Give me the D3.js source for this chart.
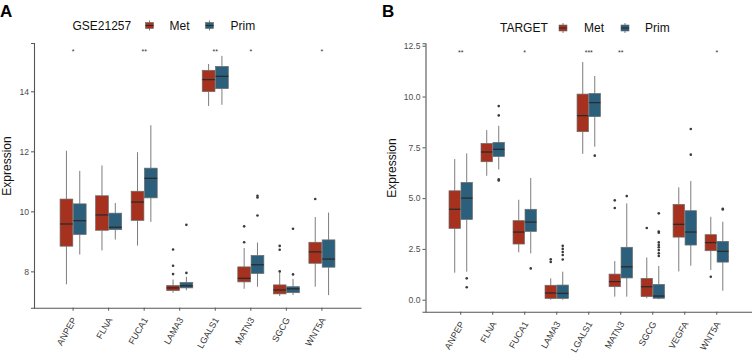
<!DOCTYPE html>
<html>
<head>
<meta charset="utf-8">
<script src="https://cdn.jsdelivr.net/npm/d3@7"></script>
<style>
  body { margin: 0; background: #fff; }
  text { font-family: "Liberation Sans", Arial, sans-serif; }
</style>
</head>
<body>
<div id="chart"></div>
<script>
// ---- data: [lower whisker, q1, median, q3, upper whisker] ----
var genesA = ["ANPEP", "FLNA", "FUCA1", "LAMA3", "LGALS1", "MATN3", "SGCG", "WNT5A"];
var metA = [
    [7.57, 8.84, 9.58, 10.41, 12.02],
    [8.70, 9.37, 9.88, 10.52, 11.53],
    [8.86, 9.70, 10.31, 10.67, 11.97],
    [7.29, 7.36, 7.45, 7.53, 7.73],
    [13.51, 13.99, 14.39, 14.70, 14.91],
    [7.42, 7.65, 7.77, 8.15, 8.78],
    [7.18, 7.25, 7.38, 7.55, 7.96],
    [7.49, 8.27, 8.65, 8.97, 9.81]
];
var primA = [
    [8.56, 9.23, 9.69, 10.25, 11.35],
    [9.06, 9.39, 9.47, 9.94, 10.28],
    [9.65, 10.45, 11.10, 11.44, 12.87],
    [7.37, 7.45, 7.52, 7.63, 7.82],
    [13.55, 14.09, 14.50, 14.83, 15.18],
    [7.49, 7.93, 8.22, 8.53, 8.96],
    [7.21, 7.29, 7.42, 7.49, 7.75],
    [7.21, 8.14, 8.41, 9.05, 9.96]
];
var metOutA = [[], [], [], [8.73, 8.19, 7.91], [], [9.50, 8.97], [8.85, 8.72, 8.00], [10.41]];
var primOutA = [[], [], [], [9.55, 7.95], [], [10.52, 10.46, 9.86], [9.42, 7.90], []];
var sigA = ["*", "", "**", "", "**", "*", "", "*"];
var sigValA = 15.34;
var ticksA = [8, 10, 12, 14];

var genesB = ["ANPEP", "FLNA", "FUCA1", "LAMA3", "LGALS1", "MATN3", "SGCG", "VEGFA", "WNT5A"];
var metB = [
    [1.33, 3.51, 4.45, 5.36, 6.92],
    [6.10, 6.79, 7.27, 7.69, 8.35],
    [2.33, 2.74, 3.33, 3.89, 4.92],
    [0.00, 0.06, 0.33, 0.71, 1.05],
    [7.18, 8.27, 9.06, 10.12, 11.70],
    [0.15, 0.64, 0.89, 1.26, 1.90],
    [0.07, 0.15, 0.64, 1.05, 2.08],
    [1.39, 3.08, 3.71, 4.69, 5.53],
    [1.46, 2.41, 2.81, 3.20, 4.08]
];
var primB = [
    [1.38, 3.95, 5.00, 5.77, 7.20],
    [6.41, 7.05, 7.40, 7.74, 8.56],
    [2.28, 3.36, 3.82, 4.45, 5.99],
    [0.00, 0.06, 0.31, 0.72, 1.38],
    [7.53, 9.01, 9.70, 10.15, 11.01],
    [0.15, 1.07, 1.62, 2.58, 4.74],
    [0.02, 0.07, 0.18, 0.75, 1.66],
    [1.67, 2.69, 3.33, 4.38, 5.84],
    [0.44, 1.85, 2.38, 2.87, 3.84]
];
var metOutB = [[], [], [], [1.99, 1.86], [], [4.89, 4.51], [3.53], [], [1.13]];
var primOutB = [[1.05, 0.61], [9.53, 9.07, 5.92, 5.87], [1.54], [2.65, 2.50, 2.35, 2.20, 1.98], [7.09], [5.10],
    [4.25, 3.36, 3.30, 2.82, 2.69, 2.58, 2.44, 2.28, 2.15], [8.40, 7.14], [4.48, 4.44]];
var sigB = ["**", "", "*", "", "***", "**", "", "", "*"];
var sigValB = 12.2;
var ticksB = [0, 2.5, 5, 7.5, 10, 12.5];

var groups = ["Met", "Prim"];
var colors = { Met: "#a7311f", Prim: "#2c5f7c" };

var svg = d3.select("#chart").append("svg")
    .attr("width", 752)
    .attr("height", 356);

function panel(opt) {
    var x = d3.scaleBand()
        .domain(opt.genes)
        .range([opt.left, opt.right])
        .paddingOuter(0.6)
        .paddingInner(0);
    var bw = x.bandwidth();
    var yScale = d3.scaleLinear()
        .domain(opt.yDomain)
        .range([opt.bottom, opt.top]);
    var g = svg.append("g");
    var boxW = bw * 0.75 / 2;

    // boxes
    opt.genes.forEach(function(gene, i) {
        [opt.met, opt.prim].forEach(function(stats, k) {
            var s = stats[i];
            var cx = x(gene) + bw / 2 + (k === 0 ? -boxW / 2 : boxW / 2);
            var col = colors[groups[k]];
            g.append("line")
                .attr("x1", cx).attr("x2", cx)
                .attr("y1", yScale(s[4])).attr("y2", yScale(s[3]))
                .attr("stroke", "#5c5c5c").attr("stroke-width", 0.8);
            g.append("line")
                .attr("x1", cx).attr("x2", cx)
                .attr("y1", yScale(s[1])).attr("y2", yScale(s[0]))
                .attr("stroke", "#5c5c5c").attr("stroke-width", 0.8);
            g.append("rect")
                .attr("x", cx - boxW / 2 + 0.3)
                .attr("width", boxW - 0.6)
                .attr("y", yScale(s[3]))
                .attr("height", yScale(s[1]) - yScale(s[3]))
                .attr("fill", col)
                .attr("stroke", "#6a6a6a").attr("stroke-width", 0.7);
            g.append("line")
                .attr("x1", cx - boxW / 2 + 0.3).attr("x2", cx + boxW / 2 - 0.3)
                .attr("y1", yScale(s[2])).attr("y2", yScale(s[2]))
                .attr("stroke", "#2b2b2b").attr("stroke-width", 1.3);
            var outs = (k === 0 ? opt.metOut : opt.primOut)[i];
            g.selectAll(null).data(outs).enter().append("circle")
                .attr("cx", cx)
                .attr("cy", function(d) { return yScale(d); })
                .attr("r", 1.3)
                .attr("fill", "#3a3a3a");
        });
        if (opt.sig[i]) {
            g.append("text")
                .attr("x", x(gene) + bw / 2)
                .attr("y", yScale(opt.sigVal) + 3)
                .attr("text-anchor", "middle")
                .attr("font-size", 7)
                .attr("fill", "#333")
                .text(opt.sig[i]);
        }
    });

    // y axis
    var yAxis = d3.axisLeft(yScale).tickValues(opt.ticks).tickSize(3).tickPadding(2)
        .tickFormat(opt.fmt);
    var ya = g.append("g").attr("transform", "translate(" + opt.left + ",0)").call(yAxis);
    ya.select(".domain").attr("stroke", "#555").attr("stroke-width", 1.1);
    ya.selectAll(".tick line").attr("stroke", "#555");
    ya.selectAll(".tick text").attr("font-size", 8.6).attr("fill", "#4d4d4d")
        .attr("font-family", "Liberation Sans, Arial, sans-serif");

    // x axis
    var xAxis = d3.axisBottom(x).tickSize(3).tickSizeOuter(0);
    var xa = g.append("g").attr("transform", "translate(0," + opt.bottom + ")").call(xAxis);
    xa.select(".domain").attr("stroke", "#555").attr("stroke-width", 1.1);
    xa.selectAll(".tick line").attr("stroke", "#555");
    xa.selectAll(".tick text")
        .attr("font-size", 9).attr("fill", "#333")
        .attr("font-family", "Liberation Sans, Arial, sans-serif")
        .attr("text-anchor", "end")
        .attr("dy", null)
        .attr("y", 0)
        .attr("transform", "translate(4,12) rotate(-60)");

    // axis title
    g.append("text")
        .attr("transform", "translate(" + opt.titleX + "," + opt.titleY + ") rotate(-90)")
        .attr("text-anchor", "middle")
        .attr("font-size", 12)
        .attr("fill", "#111")
        .text("Expression");

    // panel letter
    g.append("text")
        .attr("x", opt.letterX).attr("y", 17)
        .attr("font-size", 17).attr("font-weight", "bold")
        .text(opt.letter);

    // legend
    var lg = g.append("g").attr("transform", "translate(0," + opt.legY + ")");
    lg.append("text").attr("x", opt.legX).attr("y", 4.3).attr("font-size", 12).attr("fill", "#111").text(opt.legTitle);
    var keyX = [opt.legX + opt.legOff[0], opt.legX + opt.legOff[1]];
    var labX = [opt.legX + opt.legOff[2], opt.legX + opt.legOff[3]];
    groups.forEach(function(grp, k) {
        var kx = keyX[k];
        lg.append("line").attr("x1", kx + 4).attr("x2", kx + 4).attr("y1", -5).attr("y2", 5)
            .attr("stroke", "#5c5c5c").attr("stroke-width", 0.8);
        lg.append("rect").attr("x", kx).attr("y", -3).attr("width", 8).attr("height", 6)
            .attr("fill", colors[grp]).attr("stroke", "#6a6a6a").attr("stroke-width", 0.6);
        lg.append("line").attr("x1", kx).attr("x2", kx + 8).attr("y1", 0).attr("y2", 0)
            .attr("stroke", "#2b2b2b").attr("stroke-width", 1.1);
        lg.append("text").attr("x", labX[k]).attr("y", 4.3).attr("font-size", 12).attr("fill", "#111").text(grp);
    });
}

panel({
    genes: genesA, met: metA, prim: primA, metOut: metOutA, primOut: primOutA,
    sig: sigA, sigVal: sigValA, ticks: ticksA, fmt: d3.format("d"),
    left: 34, right: 361, top: 43, bottom: 307.7, yDomain: [6.79, 15.61],
    titleX: 11, titleY: 166, letter: "A", letterX: 0,
    legTitle: "GSE21257", legX: 72.5, legY: 25.5, legOff: [73, 133, 97, 158]
});

panel({
    genes: genesB, met: metB, prim: primB, metOut: metOutB, primOut: primOutB,
    sig: sigB, sigVal: sigValB, ticks: ticksB, fmt: d3.format(".1f"),
    left: 425.5, right: 752, top: 43.3, bottom: 311.7, yDomain: [-0.591, 12.62],
    titleX: 396, titleY: 168, letter: "B", letterX: 382,
    legTitle: "TARGET", legX: 500, legY: 28, legOff: [59, 121, 84, 145]
});
</script>
</body>
</html>
